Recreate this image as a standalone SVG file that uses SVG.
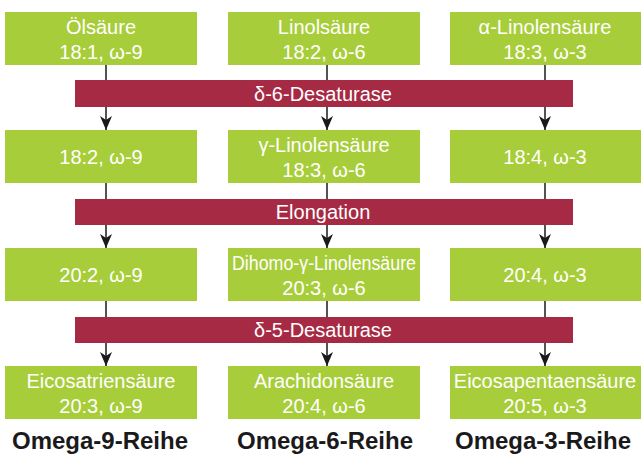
<svg xmlns="http://www.w3.org/2000/svg" width="641" height="455" viewBox="0 0 641 455">
<defs>
<style>
.box{fill:#a8cd3a}
.bar{fill:#a62a44}
.t{font-family:"Liberation Sans",Arial,sans-serif;font-size:20px;fill:#ffffff;text-anchor:middle}
.h{font-family:"Liberation Sans",Arial,sans-serif;font-size:24px;font-weight:bold;fill:#1a1a1a;text-anchor:middle}
.c{stroke:#1a1a1a;stroke-width:1.5;fill:none}
</style>
<marker id="ah" viewBox="0 0 14 12" refX="14" refY="6" markerWidth="14" markerHeight="12" markerUnits="userSpaceOnUse" orient="auto">
<path d="M0,0 L14,6 L0,12 L4,6 Z" fill="#1a1a1a"/>
</marker>
</defs>
<g id="connectors">
<line class="c" x1="106" y1="65" x2="106" y2="130" marker-end="url(#ah)"/>
<line class="c" x1="327" y1="65" x2="327" y2="130" marker-end="url(#ah)"/>
<line class="c" x1="545" y1="65" x2="545" y2="130" marker-end="url(#ah)"/>
<line class="c" x1="106" y1="183" x2="106" y2="248" marker-end="url(#ah)"/>
<line class="c" x1="327" y1="183" x2="327" y2="248" marker-end="url(#ah)"/>
<line class="c" x1="545" y1="183" x2="545" y2="248" marker-end="url(#ah)"/>
<line class="c" x1="106" y1="301" x2="106" y2="366" marker-end="url(#ah)"/>
<line class="c" x1="327" y1="301" x2="327" y2="366" marker-end="url(#ah)"/>
<line class="c" x1="545" y1="301" x2="545" y2="366" marker-end="url(#ah)"/>
</g>
<g id="bar1"><rect class="bar" x="75" y="80" width="498" height="27"/><text class="t" x="323" y="101">δ-6-Desaturase</text></g>
<g id="bar2"><rect class="bar" x="75" y="199" width="498" height="26"/><text class="t" x="323" y="219">Elongation</text></g>
<g id="bar3"><rect class="bar" x="75" y="317" width="498" height="26"/><text class="t" x="323" y="337">δ-5-Desaturase</text></g>

<g id="n11"><rect class="box" x="5" y="12" width="192" height="53"/><text class="t" x="101" y="34">Ölsäure</text><text class="t" x="101" y="59">18:1, ω-9</text></g>
<g id="n12"><rect class="box" x="228" y="12" width="192" height="53"/><text class="t" x="324" y="34">Linolsäure</text><text class="t" x="324" y="59">18:2, ω-6</text></g>
<g id="n13"><rect class="box" x="450" y="12" width="191" height="53"/><text class="t" x="545" y="34">α-Linolensäure</text><text class="t" x="545" y="59">18:3, ω-3</text></g>

<g id="n21"><rect class="box" x="5" y="130" width="192" height="53"/><text class="t" x="101" y="164">18:2, ω-9</text></g>
<g id="n22"><rect class="box" x="228" y="130" width="192" height="53"/><text class="t" x="324" y="152">γ-Linolensäure</text><text class="t" x="324" y="177">18:3, ω-6</text></g>
<g id="n23"><rect class="box" x="450" y="130" width="191" height="53"/><text class="t" x="545" y="164">18:4, ω-3</text></g>

<g id="n31"><rect class="box" x="5" y="248" width="192" height="53"/><text class="t" x="101" y="282">20:2, ω-9</text></g>
<g id="n32"><rect class="box" x="228" y="248" width="192" height="53"/><text class="t" x="324" y="270" textLength="184" lengthAdjust="spacingAndGlyphs">Dihomo-γ-Linolensäure</text><text class="t" x="324" y="295">20:3, ω-6</text></g>
<g id="n33"><rect class="box" x="450" y="248" width="191" height="53"/><text class="t" x="545" y="282">20:4, ω-3</text></g>

<g id="n41"><rect class="box" x="5" y="366" width="192" height="53"/><text class="t" x="101" y="388">Eicosatriensäure</text><text class="t" x="101" y="413">20:3, ω-9</text></g>
<g id="n42"><rect class="box" x="228" y="366" width="192" height="53"/><text class="t" x="324" y="388">Arachidonsäure</text><text class="t" x="324" y="413">20:4, ω-6</text></g>
<g id="n43"><rect class="box" x="450" y="366" width="191" height="53"/><text class="t" x="545" y="388">Eicosapentaensäure</text><text class="t" x="545" y="413">20:5, ω-3</text></g>

<g id="labels">
<text class="h" x="100" y="449">Omega-9-Reihe</text>
<text class="h" x="325" y="449">Omega-6-Reihe</text>
<text class="h" x="543" y="449">Omega-3-Reihe</text>
</g>
</svg>
